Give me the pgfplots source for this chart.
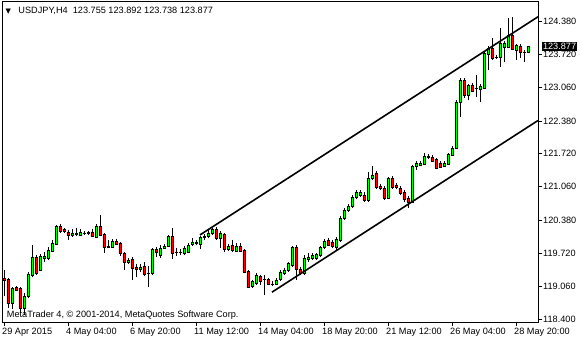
\documentclass[border=0pt]{standalone}
\usepackage{fontspec}
\setmainfont{Liberation Sans}
\newfontfamily\dejavu{DejaVu Sans}
\usepackage{pgfplots}
\usepackage{pgfplotstable}
\pgfplotsset{compat=1.18}
\definecolor{bull}{RGB}{0,255,0}
\definecolor{bear}{RGB}{255,0,0}

\pgfplotstableread{
k O H L C
0 119.224 119.385 118.862 119.184
1 119.204 119.224 118.621 118.722
2 118.722 119.043 118.601 119.023
3 119.033 119.063 118.963 118.983
4 119.023 119.043 118.521 118.621
5 118.621 118.923 118.480 118.862
6 118.862 119.345 118.822 119.305
7 119.284 119.887 119.244 119.646
8 119.646 119.686 119.284 119.325
9 119.385 119.707 119.365 119.666
10 119.626 119.747 119.546 119.666
11 119.626 119.847 119.586 119.787
12 119.767 119.988 119.747 119.928
13 119.908 120.289 119.887 120.269
14 120.269 120.310 120.129 120.169
15 120.209 120.229 120.129 120.169
16 120.149 120.189 119.988 120.088
17 120.088 120.209 120.048 120.129
18 120.109 120.229 120.068 120.129
19 120.088 120.209 120.068 120.149
20 120.129 120.169 120.088 120.119
21 120.129 120.169 120.088 120.139
22 120.149 120.209 120.048 120.068
23 120.048 120.310 120.028 120.269
24 120.269 120.490 120.068 120.088
25 120.109 120.129 119.727 119.847
26 119.867 119.988 119.827 119.847
27 119.847 120.008 119.827 119.968
28 119.968 120.008 119.887 119.908
29 119.928 119.948 119.666 119.727
30 119.727 119.747 119.385 119.546
31 119.546 119.626 119.506 119.586
32 119.606 119.646 119.184 119.425
33 119.445 119.506 119.244 119.405
34 119.405 119.506 119.345 119.445
35 119.465 119.546 119.264 119.305
36 119.315 119.465 119.043 119.325
37 119.325 119.827 119.284 119.807
38 119.807 119.847 119.646 119.747
39 119.686 119.887 119.626 119.827
40 119.827 119.908 119.807 119.867
41 119.867 120.088 119.847 120.068
42 120.068 120.229 119.606 119.727
43 119.747 119.827 119.666 119.737
44 119.737 119.807 119.686 119.747
45 119.727 119.867 119.686 119.827
46 119.747 119.928 119.727 119.887
47 119.908 120.028 119.867 119.948
48 119.928 119.988 119.887 119.948
49 119.908 120.068 119.807 120.048
50 120.048 120.109 119.988 120.068
51 120.068 120.189 120.028 120.129
52 120.129 120.229 120.088 120.209
53 120.209 120.249 119.988 120.028
54 120.028 120.169 119.827 120.129
55 120.109 120.129 119.747 119.807
56 119.807 119.908 119.767 119.867
57 119.887 119.988 119.747 119.787
58 119.767 119.928 119.747 119.867
59 119.867 119.928 119.747 119.767
60 119.787 119.807 119.325 119.345
61 119.365 119.385 119.023 119.043
62 119.063 119.184 119.023 119.164
63 119.124 119.325 119.083 119.284
64 119.264 119.284 119.083 119.164
65 119.204 119.284 118.882 119.194
66 119.204 119.224 119.083 119.104
67 119.104 119.164 119.063 119.094
68 119.104 119.224 119.083 119.184
69 119.204 119.385 119.164 119.345
70 119.325 119.425 119.284 119.385
71 119.385 119.546 119.345 119.526
72 119.485 119.867 119.445 119.847
73 119.847 119.887 119.184 119.405
74 119.405 119.445 119.284 119.325
75 119.325 119.686 119.284 119.626
76 119.606 119.727 119.546 119.646
77 119.626 119.727 119.586 119.686
78 119.626 119.727 119.586 119.707
79 119.686 119.867 119.646 119.847
80 119.847 120.008 119.807 119.968
81 119.988 120.028 119.867 119.887
82 119.948 119.988 119.827 119.867
83 119.847 120.048 119.767 120.008
84 119.988 120.470 119.948 120.430
85 120.430 120.631 120.390 120.591
86 120.591 120.712 120.551 120.671
87 120.671 120.892 120.631 120.852
88 120.852 120.993 120.812 120.953
89 120.892 120.993 120.852 120.953
90 120.892 120.953 120.752 120.792
91 120.792 121.355 120.752 121.234
92 121.234 121.475 121.194 121.294
93 121.335 121.375 121.013 121.053
94 121.073 121.114 120.993 121.033
95 121.033 121.073 120.792 120.832
96 120.832 121.254 120.812 121.234
97 121.234 121.274 121.013 121.053
98 121.093 121.134 121.013 121.053
99 121.033 121.073 120.892 120.933
100 120.953 120.993 120.752 120.812
101 120.832 120.872 120.631 120.752
102 120.752 121.495 120.732 121.475
103 121.475 121.576 121.395 121.536
104 121.495 121.576 121.475 121.536
105 121.516 121.737 121.495 121.676
106 121.656 121.717 121.616 121.676
107 121.656 121.696 121.556 121.576
108 121.616 121.636 121.415 121.435
109 121.536 121.576 121.435 121.455
110 121.475 121.576 121.455 121.536
111 121.516 121.737 121.495 121.717
112 121.696 121.877 121.676 121.837
113 121.837 122.802 121.817 122.762
114 122.762 123.244 122.460 123.204
115 123.204 123.244 122.842 122.902
116 122.902 123.124 122.802 123.103
117 123.103 123.144 122.963 122.983
118 123.043 123.304 122.862 123.033
119 123.023 123.124 122.762 123.083
120 123.043 123.767 123.023 123.747
121 123.727 123.887 123.405 123.847
122 123.847 124.048 123.606 123.646
123 123.666 123.706 123.626 123.656
124 123.666 124.249 123.465 123.948
125 123.867 123.988 123.566 123.948
126 123.867 124.450 123.847 124.108
127 124.108 124.470 123.807 123.827
128 123.807 123.928 123.606 123.907
129 123.887 123.928 123.646 123.767
130 123.767 123.807 123.566 123.757
131 123.755 123.892 123.738 123.877
}\ohlc

\pgfplotsset{
  mtframe/.style={
    at={(2bp,18bp)}, anchor=south west,
    scale only axis, width=536bp, height=321bp,
    xmin=-0.5, xmax=133.5, ymin=118.34, ymax=124.792,
  },
}

\begin{document}
\begin{tikzpicture}
\useasboundingbox (0,0) rectangle (580bp,340bp);
% frame, ticks and wicks
\begin{axis}[mtframe,
  axis line style={line width=0.8bp, black},
  tick align=outside,
  major tick length=4bp,
  tick style={black, line width=0.8bp},
  xtick pos=bottom, ytick pos=right,
  yticklabel pos=right,
  xtick={0,16,32,48,64,80,96,112,128},
  xticklabels={29 Apr 2015, 4 May 04:00, 6 May 20:00, 11 May 12:00, 14 May 04:00, 18 May 20:00, 21 May 12:00, 26 May 04:00, 28 May 20:00},
  ytick={118.4,119.06,119.72,120.38,121.06,121.72,122.38,123.06,123.72,124.38},
  yticklabels={118.400,119.060,119.720,120.380,121.060,121.720,122.380,123.060,123.720,124.380},
  ticklabel style={font=\fontsize{9.2}{10}\selectfont, inner sep=0pt},
  xticklabel style={anchor=north west, xshift=-2bp, yshift=-2bp},
  yticklabel style={anchor=west, xshift=1bp},
]
\addplot[draw=none, no marks,
  error bars/.cd, y dir=plus, y explicit, error mark=none,
  error bar style={draw=black, line width=0.8bp}]
  table[x=k, y=L, y error expr=\thisrow{H}-\thisrow{L}] {\ohlc};
\end{axis}
% candle bodies
\begin{axis}[mtframe, hide axis, ybar stacked, bar width=2.4bp]
\addplot[draw=none, fill=none] table[x=k, y expr={min(\thisrow{O},\thisrow{C})}] {\ohlc};
\addplot[draw=black, fill=bull, line width=0.6bp] table[x=k, y expr={max(\thisrow{C}-\thisrow{O},0)}] {\ohlc};
\addplot[draw=black, fill=bear, line width=0.6bp] table[x=k, y expr={max(\thisrow{O}-\thisrow{C},0)}] {\ohlc};
\end{axis}
% channel and annotations
\begin{axis}[mtframe, hide axis, clip mode=individual]
\addplot[black, line width=1.6bp] coordinates {(49,120.09) (133.5,124.475)};
\addplot[black, line width=1.6bp] coordinates {(67,118.94) (133.5,122.39)};
\node[anchor=west, fill=black, text=white, inner xsep=0.8bp, inner ysep=1.6bp,
  font=\fontsize{9.2}{10}\selectfont] at (axis cs:133.5,123.877) [xshift=4bp] {123.877};
\node[anchor=base west, inner sep=0pt, font=\fontsize{9.2}{10}\selectfont]
  at (rel axis cs:0,0) [xshift=4.7bp, yshift=4bp] {MetaTrader 4, © 2001-2014, MetaQuotes Software Corp.};
\node[anchor=base west, inner sep=0pt, font=\fontsize{9.2}{10}\selectfont]
  at (rel axis cs:0,1) [xshift=16.3bp, yshift=-13bp] {USDJPY,H4\ \ 123.755 123.892 123.738 123.877};
\node[anchor=base west, inner sep=0pt, font=\dejavu\fontsize{7}{8}\selectfont]
  at (rel axis cs:0,1) [xshift=3.5bp, yshift=-12.5bp] {▼};
\end{axis}
\end{tikzpicture}
\end{document}
